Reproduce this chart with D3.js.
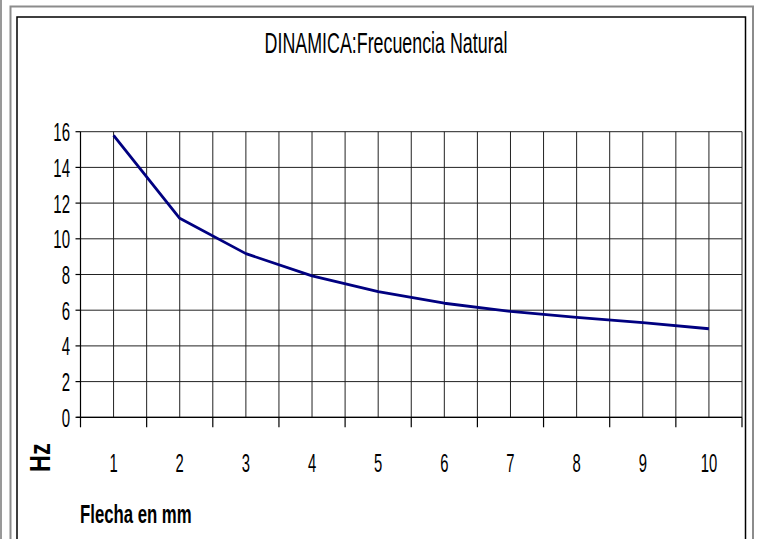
<!DOCTYPE html>
<html>
<head>
<meta charset="utf-8">
<script src="https://cdn.jsdelivr.net/npm/d3@7"></script>
<style>
  body { margin: 0; background: #fff; }
  svg { display: block; font-family: "Liberation Sans", Arial, sans-serif; }
</style>
</head>
<body>
<div id="chart"></div>
<script>
// values
const CATEGORIES = ["1", "2", "3", "4", "5", "6", "7", "8", "9", "10"];
const HZ = [15.8, 11.15, 9.17, 7.92, 7.04, 6.39, 5.93, 5.6, 5.3, 4.96];
const Y_TICKS = [0, 2, 4, 6, 8, 10, 12, 14, 16];
const TITLE = "DINAMICA:Frecuencia Natural";
const X_LABEL = "Flecha en mm";
const Y_LABEL = "Hz";

const W = 760, H = 539;
const plot = { left: 80.5, right: 742, top: 131.7, bottom: 417.3 };

const svg = d3.select("#chart").append("svg")
  .attr("width", W)
  .attr("height", H)
  .attr("viewBox", `0 0 ${W} ${H}`);

// frames round the chart
svg.append("line")
  .attr("x1", 1).attr("x2", 1).attr("y1", 0).attr("y2", H)
  .attr("stroke", "#999").attr("stroke-width", 2);
svg.append("rect")
  .attr("x", 10.5).attr("y", 6.5).attr("width", 742.5).attr("height", H + 20)
  .attr("fill", "none").attr("stroke", "#8c8c8c").attr("stroke-width", 2);
svg.append("rect")
  .attr("x", 17).attr("y", 17).attr("width", 728.5).attr("height", H + 20)
  .attr("fill", "none").attr("stroke", "#000").attr("stroke-width", 1.5);

const x = d3.scaleBand()
  .domain(CATEGORIES)
  .range([plot.left, plot.right])
  .padding(0);

const y = d3.scaleLinear()
  .domain([0, 16])
  .range([plot.bottom, plot.top]);

const cx = d => x(d) + x.bandwidth() / 2;

// narrow text: squeeze glyphs horizontally like the original
function label(str, tx, ty, opts) {
  const t = svg.append("text")
    .attr("transform", opts.transform || `translate(${tx},${ty}) scale(${opts.sx || 0.6},1)`)
    .attr("text-anchor", opts.anchor || "middle")
    .attr("font-size", opts.size)
    .attr("font-weight", opts.weight || "normal")
    .attr("fill", "#000")
    .text(str);
  return t;
}

const grid = svg.append("g").attr("stroke", "#222").attr("stroke-width", 1);

// horizontal gridlines
grid.selectAll(".hgrid")
  .data(Y_TICKS)
  .join("line")
  .attr("x1", plot.left).attr("x2", plot.right)
  .attr("y1", d => y(d)).attr("y2", d => y(d));

// vertical gridlines: category edges and category centres
const edges = CATEGORIES.map(c => x(c)).concat([x.range()[1]]);
grid.selectAll(".vedge")
  .data(edges)
  .join("line")
  .attr("x1", d => d).attr("x2", d => d)
  .attr("y1", plot.top).attr("y2", plot.bottom);
grid.selectAll(".vmid")
  .data(CATEGORIES)
  .join("line")
  .attr("x1", d => cx(d)).attr("x2", d => cx(d))
  .attr("y1", plot.top).attr("y2", plot.bottom);

// axes
const axes = svg.append("g").attr("stroke", "#000").attr("stroke-width", 1.2);
axes.append("line")
  .attr("x1", plot.left).attr("x2", plot.left)
  .attr("y1", plot.top).attr("y2", plot.bottom);
axes.append("line")
  .attr("x1", plot.left - 4).attr("x2", plot.right)
  .attr("y1", plot.bottom).attr("y2", plot.bottom);
axes.selectAll(".ytick")
  .data(Y_TICKS)
  .join("line")
  .attr("x1", plot.left - 5).attr("x2", plot.left)
  .attr("y1", d => y(d)).attr("y2", d => y(d));
axes.selectAll(".xtick")
  .data(edges)
  .join("line")
  .attr("x1", d => d).attr("x2", d => d)
  .attr("y1", plot.bottom).attr("y2", plot.bottom + 10);

// tick labels
Y_TICKS.forEach(v => label(String(v), 70, y(v) + 9.5, { size: 25, anchor: "end", sx: 0.6 }));
CATEGORIES.forEach(c => label(c, cx(c), 471.5, { size: 26, sx: 0.57 }));

// series
const line = d3.line()
  .x((d, i) => cx(CATEGORIES[i]))
  .y(d => y(d));

svg.append("path")
  .datum(HZ)
  .attr("fill", "none")
  .attr("stroke", "#000080")
  .attr("stroke-width", 2.8)
  .attr("stroke-linejoin", "round")
  .attr("d", line);

// titles
label(TITLE, 386, 53.3, { size: 30, sx: 0.595 });
label(X_LABEL, 80, 523, { size: 25, weight: "bold", anchor: "start", sx: 0.67 });
label(Y_LABEL, 0, 0, {
  size: 23.5, weight: "bold", anchor: "start",
  transform: "translate(50,472) rotate(-90) scale(1,1.29)"
});
</script>
</body>
</html>
